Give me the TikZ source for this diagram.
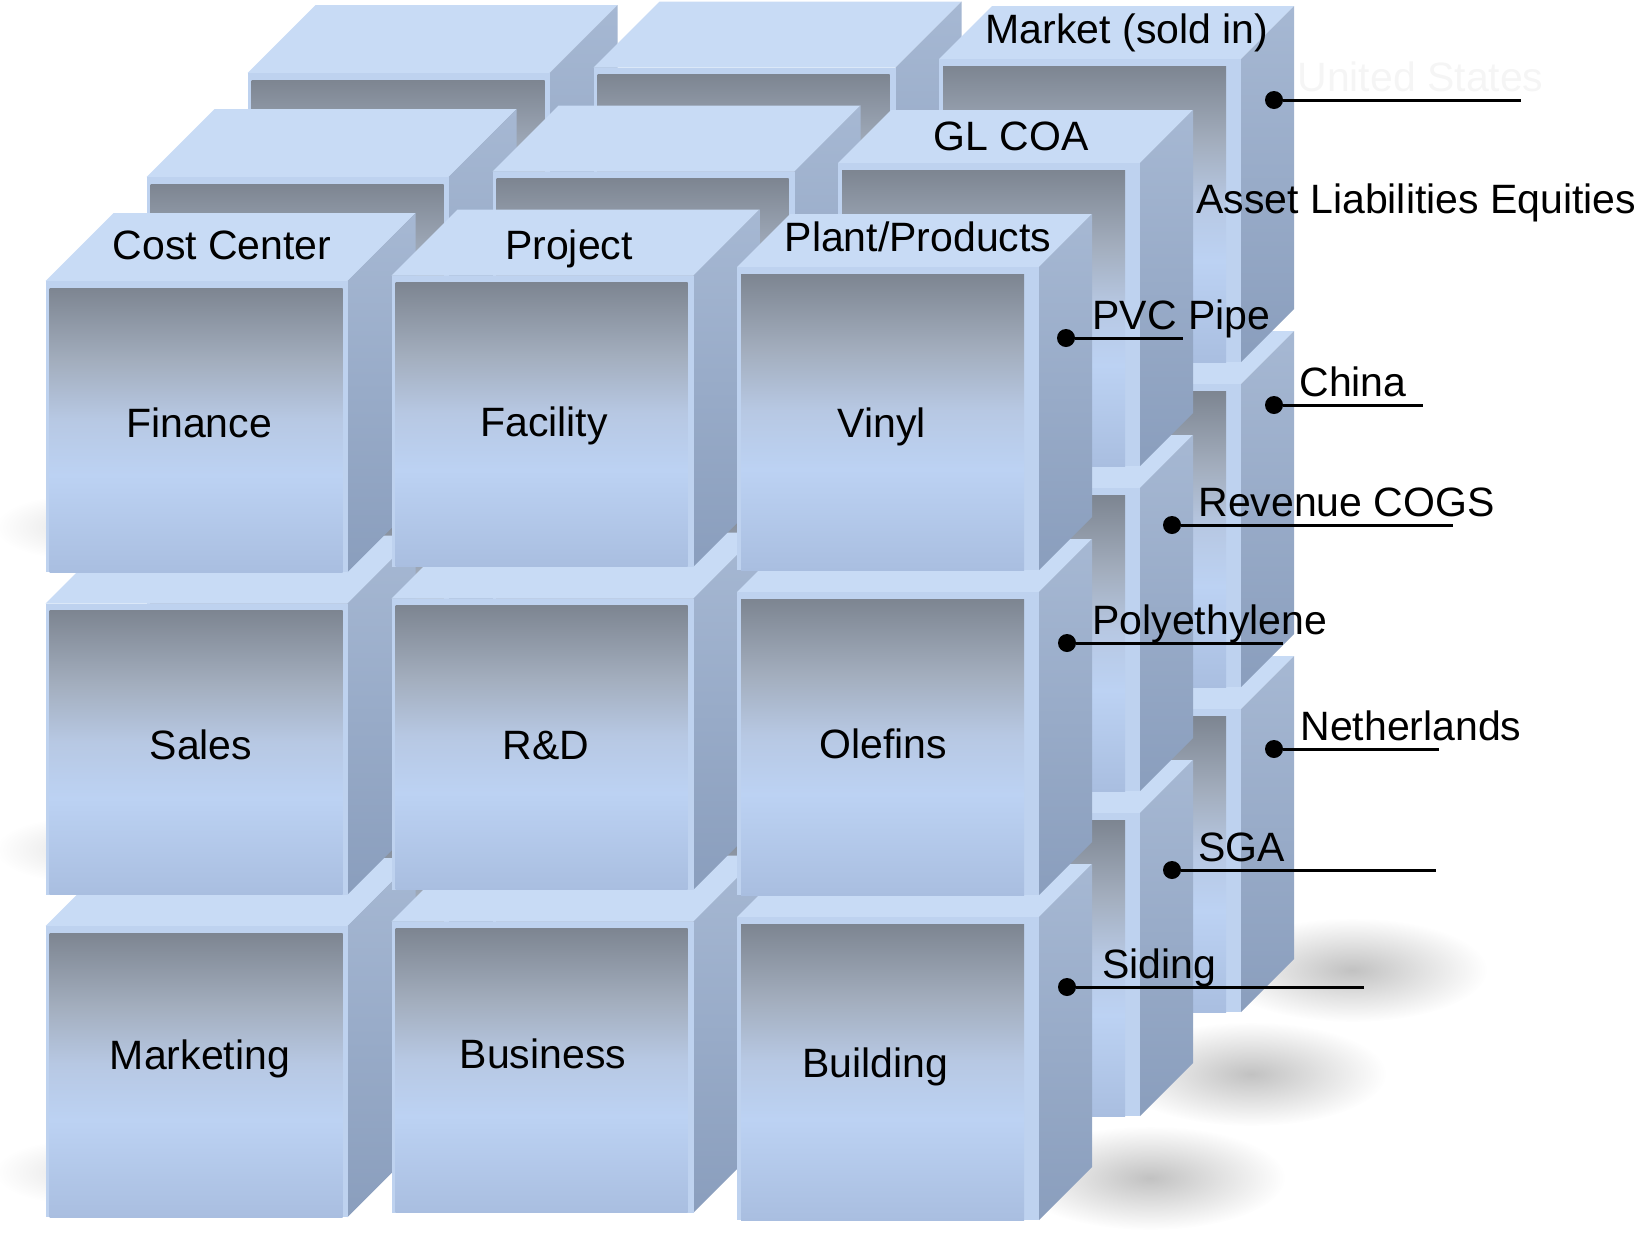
\documentclass[tikz,border=0pt]{standalone}
\usepackage{fontspec}
\setmainfont{Liberation Sans}
\usetikzlibrary{fadings}

\definecolor{topclr}{HTML}{C8DBF5}
\definecolor{rimclr}{HTML}{BED2EF}
\definecolor{sidetop}{HTML}{A6B8D3}
\definecolor{sidebot}{HTML}{8A9EBD}
\definecolor{paneltop}{HTML}{7D8591}
\definecolor{panelgray}{HTML}{A3AEBE}
\definecolor{panelmid}{HTML}{B7C8E3}
\definecolor{panelhi}{HTML}{BCD2F3}
\definecolor{panelbot}{HTML}{A9BEE0}

\pgfdeclareverticalshading{panelshade}{100bp}{color(0bp)=(panelbot); color(25bp)=(panelbot); color(42bp)=(panelhi); color(52bp)=(panelmid); color(62bp)=(panelgray); color(75bp)=(paneltop); color(100bp)=(paneltop)}
\tikzfading[name=softblur, inner color=transparent!20, outer color=transparent!100]

\tikzset{
  topface/.style={fill=topclr},
  sideface/.style={top color=sidetop, bottom color=sidebot},
  rimface/.style={fill=rimclr},
  panelface/.style={shading=panelshade},
  blurshadow/.style={fill=black, path fading=softblur},
  dimlabel/.style={font=\fontsize{20.5}{24}\selectfont, inner sep=0pt},
  leader/.style={line width=1.5pt},
  pindot/.style={circle, fill=black, inner sep=0pt, minimum size=9pt},
}

% #1 x, #2 y of the front face, #3 height, #4 depth, #5 right rim
\newcommand{\blockcube}[5]{%
  \fill[topface] (#1,#2) -- ++(#4,-#4) -- ++(302,0) -- ++(-#4,#4) -- cycle;
  \shade[sideface] (#1+302,#2) -- ++(#4,-#4) -- ++(0,#3) -- ++(-#4,#4) -- cycle;
  \fill[rimface] (#1,#2) rectangle ++(302,#3);
  \shade[panelface] (#1+4,#2+7) rectangle (#1+302-#5,#2+#3);
}

\begin{document}
\begin{tikzpicture}[x=0.5pt, y=-0.5pt]
\useasboundingbox (0,0) rectangle (1639,1233);
% shadows on the floor
\foreach \l in {0,1,2} {
  \fill[blurshadow, opacity=.3] (1150+101*\l,1178-104*\l) ellipse (135 and 52);
}
\foreach \r in {0,1,2} {
  \fill[blurshadow, opacity=.12] (75,527+322.5*\r) ellipse (80 and 32);
}
% layers, back to front
\foreach \l in {2,1,0} {
  \foreach \xo/\yo/\h/\d/\p/\ri in {45.5/281/291/68/322.5/5, 391.5/275.6/291/66/323/6, 737/267/303/53/325/15} {
    \foreach \r in {2,1,0} {
      \pgfmathsetmacro\cx{\xo+101*\l}
      \pgfmathsetmacro\cy{\yo+\p*\r-104*\l}
      \blockcube{\cx}{\cy}{\h}{\d}{\ri}
    }
  }
}
% dimensions
\node[dimlabel, anchor=base] (costcenter) at (222,259) {Cost Center};
\node[dimlabel, anchor=base] (project) at (569,259) {Project};
\node[dimlabel, anchor=base] (plant) at (918,251) {Plant/Products};
\node[dimlabel, anchor=base] (glcoa) at (1011,150) {GL COA};
\node[dimlabel, anchor=base] (market) at (1127,43) {Market (sold in)};
% members of the front layer
\foreach \nm/\txt/\x/\y in {finance/Finance/199/437, facility/Facility/544/436, vinyl/Vinyl/882/437,
    sales/Sales/201/759, rnd/R\&D/546/759, olefins/Olefins/883/758,
    marketing/Marketing/200/1069, business/Business/543/1068, building/Building/875/1077} {
  \node[dimlabel, anchor=base] (\nm) at (\x,\y) {\txt};
}
% members on the side
\node[dimlabel, anchor=base west] (asset) at (1196,213) {Asset Liabilities Equities};
\node[pindot] (us) at (1274,100) {};
\coordinate (us-end) at (1521,100);
\draw[leader] (us) -- (us-end);
\node[dimlabel, anchor=base west, text=white!96!black] (us-label) at (1297,91) {United States};
\foreach \nm/\txt/\x/\y/\xe/\xt in {pvc/PVC Pipe/1066/338/1182.5/1092, china/China/1274/405/1422.5/1299,
    revenue/Revenue COGS/1172/525/1453/1198, poly/Polyethylene/1067/643/1283/1092,
    nl/Netherlands/1274/749/1439/1300, sga/SGA/1172/870/1436/1198, siding/Siding/1067/987/1364/1102} {
  \node[pindot] (\nm) at (\x,\y) {};
  \coordinate (\nm-end) at (\xe,\y);
  \draw[leader] (\nm) -- (\nm-end);
  \node[dimlabel, anchor=base west] (\nm-label) at (\xt,\y-9) {\txt};
}
\end{tikzpicture}
\end{document}
